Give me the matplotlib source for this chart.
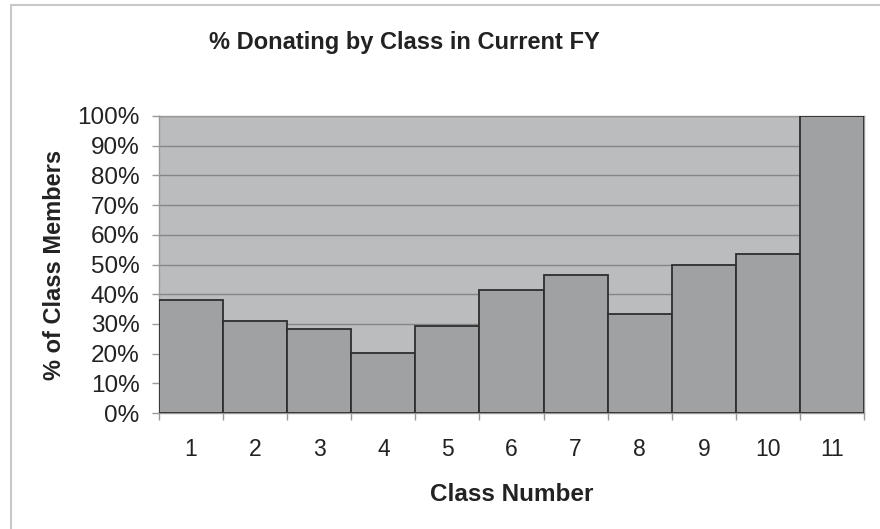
import matplotlib
matplotlib.use("Agg")
import matplotlib.pyplot as plt
import numpy as np
from matplotlib.ticker import PercentFormatter, FixedLocator
from matplotlib.patches import Rectangle

classes = ["1", "2", "3", "4", "5", "6", "7", "8", "9", "10", "11"]
pct_donating = [38.0, 31.0, 28.4, 20.1, 29.3, 41.5, 46.4, 33.2, 49.9, 53.4, 100.0]
y_ticks = [0, 10, 20, 30, 40, 50, 60, 70, 80, 90, 100]

plt.rcParams['font.family'] = ['Liberation Sans', 'DejaVu Sans']

fig = plt.figure(figsize=(8.8, 5.29), dpi=100)
fig.patch.set_facecolor('white')

# outer chart frame
fig.patches.append(Rectangle((11/880, -0.1), 1.2, 1 - 5/529 + 0.1, transform=fig.transFigure,
                             fill=False, edgecolor='#c8c8c8', linewidth=1.5))

ax = fig.add_axes([159/880, (529-413)/529, (864-159)/880, (413-116)/529])
ax.set_facecolor('#bbbcbe')

x = np.arange(1, len(classes) + 1)
ax.bar(x, pct_donating, width=1.0, color='#a0a1a3', edgecolor='#2e2e2e', linewidth=1.3, zorder=3)

ax.set_xlim(0.5, len(classes) + 0.5)
ax.set_ylim(0, 100)
ax.set_yticks(y_ticks)
ax.yaxis.set_major_formatter(PercentFormatter(decimals=0))
ax.grid(axis='y', color='#858585', linewidth=1.0, zorder=1)
ax.set_axisbelow(True)

ax.set_xticks(x)
ax.set_xticklabels(classes)
ax.xaxis.set_minor_locator(FixedLocator(np.arange(0.5, len(classes) + 1, 1.0)))
ax.tick_params(axis='x', which='major', length=0, pad=18, labelsize=16.5, colors='#222222')
ax.tick_params(axis='x', which='minor', length=5, color='#999999', width=1)
ax.tick_params(axis='y', which='major', length=5, color='#999999', width=1, pad=9,
               labelsize=17.5, labelcolor='#222222')

for s in ax.spines.values():
    s.set_color('#999999')
    s.set_linewidth(1.0)

ax.set_xlabel('Class Number', fontsize=17.5, fontweight='bold', labelpad=16, color='#222222')
ax.set_ylabel('% of Class Members', fontsize=17, fontweight='bold', labelpad=8, color='#222222')
fig.text(404/880, 1 - 43/529, '% Donating by Class in Current FY', ha='center', va='center',
         fontsize=17, fontweight='bold', color='#222222')

fig.savefig('out.png', dpi=100)
